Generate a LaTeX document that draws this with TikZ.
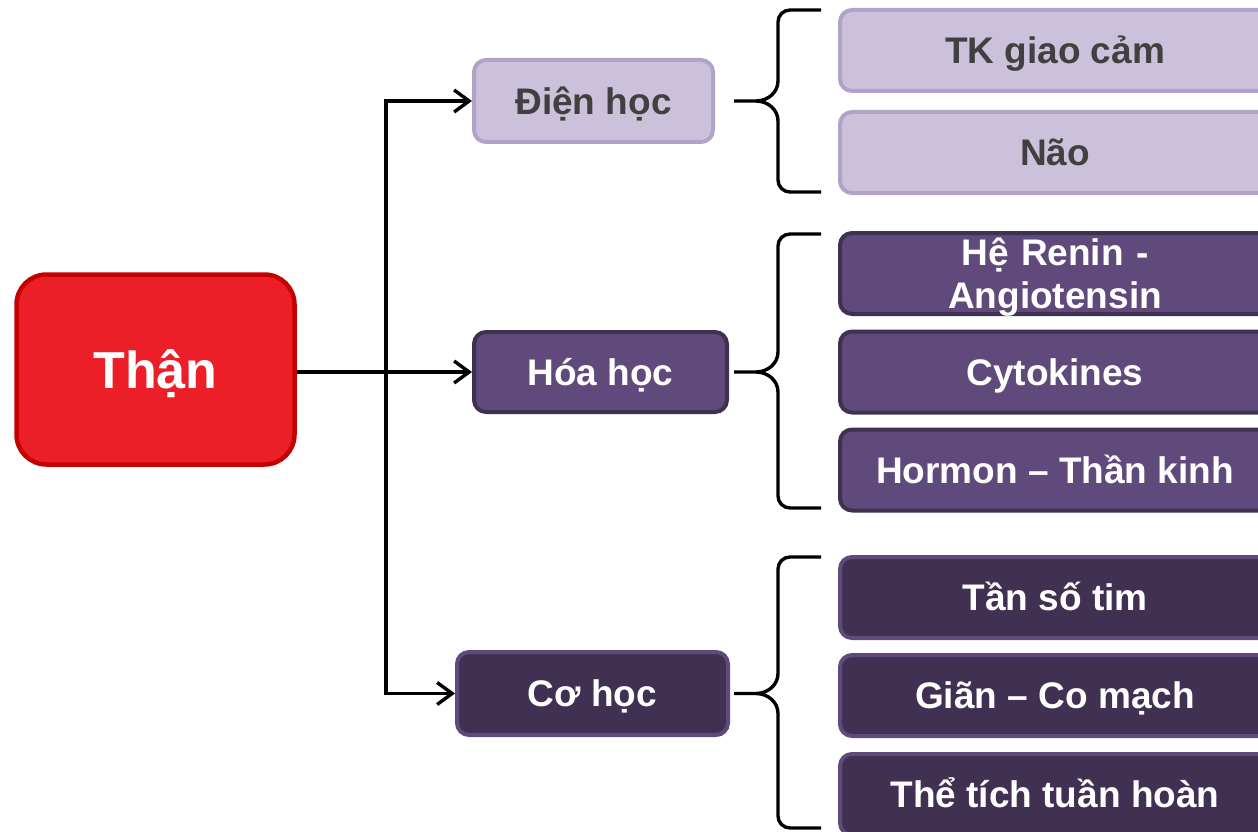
\documentclass[tikz,border=0pt]{standalone}
\usepackage{fontspec}
\setmainfont{Liberation Sans}
\usetikzlibrary{arrows.meta}
\definecolor{redfill}{HTML}{EC1E27}
\definecolor{redline}{HTML}{C40000}
\definecolor{lightfill}{HTML}{CCC1DA}
\definecolor{lightline}{HTML}{B3A2C7}
\definecolor{midfill}{HTML}{604A7B}
\definecolor{midline}{HTML}{3F3151}
\definecolor{darkfill}{HTML}{403152}
\definecolor{darkline}{HTML}{604A7B}
\definecolor{darktext}{HTML}{404040}
\tikzset{
  box/.style={rounded corners=12pt, line width=4pt, inner sep=0pt, align=center,
    font=\bfseries\fontsize{37}{43}\selectfont, text height=26.5pt, text depth=0pt},
  lightbox/.style={box, fill=lightfill, draw=lightline, text=darktext},
  midbox/.style={box, fill=midfill, draw=midline, text=white},
  darkbox/.style={box, fill=darkfill, draw=darkline, text=white},
  leaf/.style={minimum width=430pt, minimum height=81pt},
  conn/.style={line width=3.4pt, -{Straight Barb[length=15pt,width=22pt,line width=3.4pt]}},
  bracestyle/.style={line width=3.4pt, line join=round},
}
\begin{document}
\begin{tikzpicture}[x=1pt,y=-1pt]
\useasboundingbox (0,0) rectangle (1258,832);
\clip (0,0) rectangle (1258,832);
% root
\node[box, rounded corners=30pt, line width=4.5pt, fill=redfill, draw=redline, text=white,
  minimum width=278pt, minimum height=190pt, font=\bfseries\fontsize{52}{60}\selectfont,
  text height=37pt] (than) at (155.5,369.5) {Thận};
% categories
\node[lightbox, minimum width=239pt, minimum height=82pt] (dien) at (593.5,101) {Điện học};
\node[midbox, minimum width=253pt, minimum height=80pt] (hoa) at (600.5,372) {Hóa học};
\node[darkbox, minimum width=271pt, minimum height=83pt] (co) at (592.5,693.5) {Cơ học};
% leaves
\node[lightbox, leaf] (tk) at (1055,50.5) {TK giao cảm};
\node[lightbox, leaf] (nao) at (1055,152.5) {Não};
\node[midbox, leaf, text width=430pt, text depth=43pt] (renin) at (1055,273.5) {Hệ Renin -\\Angiotensin};
\node[midbox, leaf] (cyto) at (1055,372) {Cytokines};
\node[midbox, leaf] (horm) at (1055,470) {Hormon – Thần kinh};
\node[darkbox, leaf] (tan) at (1055,597.5) {Tần số tim};
\node[darkbox, leaf] (gian) at (1055,695.5) {Giãn – Co mạch};
\node[darkbox, leaf] (the) at (1055,794.5) {Thể tích tuần hoàn};
% connectors
\coordinate (split) at (386,372);
\draw[line width=3.4pt] (than.east |- hoa) -- (split);
\draw[conn] (split) -- (hoa.west);
\draw[conn] (split) |- (dien.west);
\draw[conn] (split) |- (co.west);
% braces
\coordinate (bx) at (734,0);
\foreach \cat/\top/\bot in {dien/10/192, hoa/234/508, co/557/828}{
  \draw[bracestyle] (\cat -| bx) coordinate (tip)
    (tip) -- ++(22,0) to[out=0,in=-90] ++(22,-20) -- (778,\top+12)
    to[out=90,in=180] (790,\top) -- (821,\top)
    (tip) ++(22,0) to[out=0,in=90] ++(22,20) -- (778,\bot-12)
    to[out=-90,in=180] (790,\bot) -- (821,\bot);
}
\end{tikzpicture}
\end{document}
